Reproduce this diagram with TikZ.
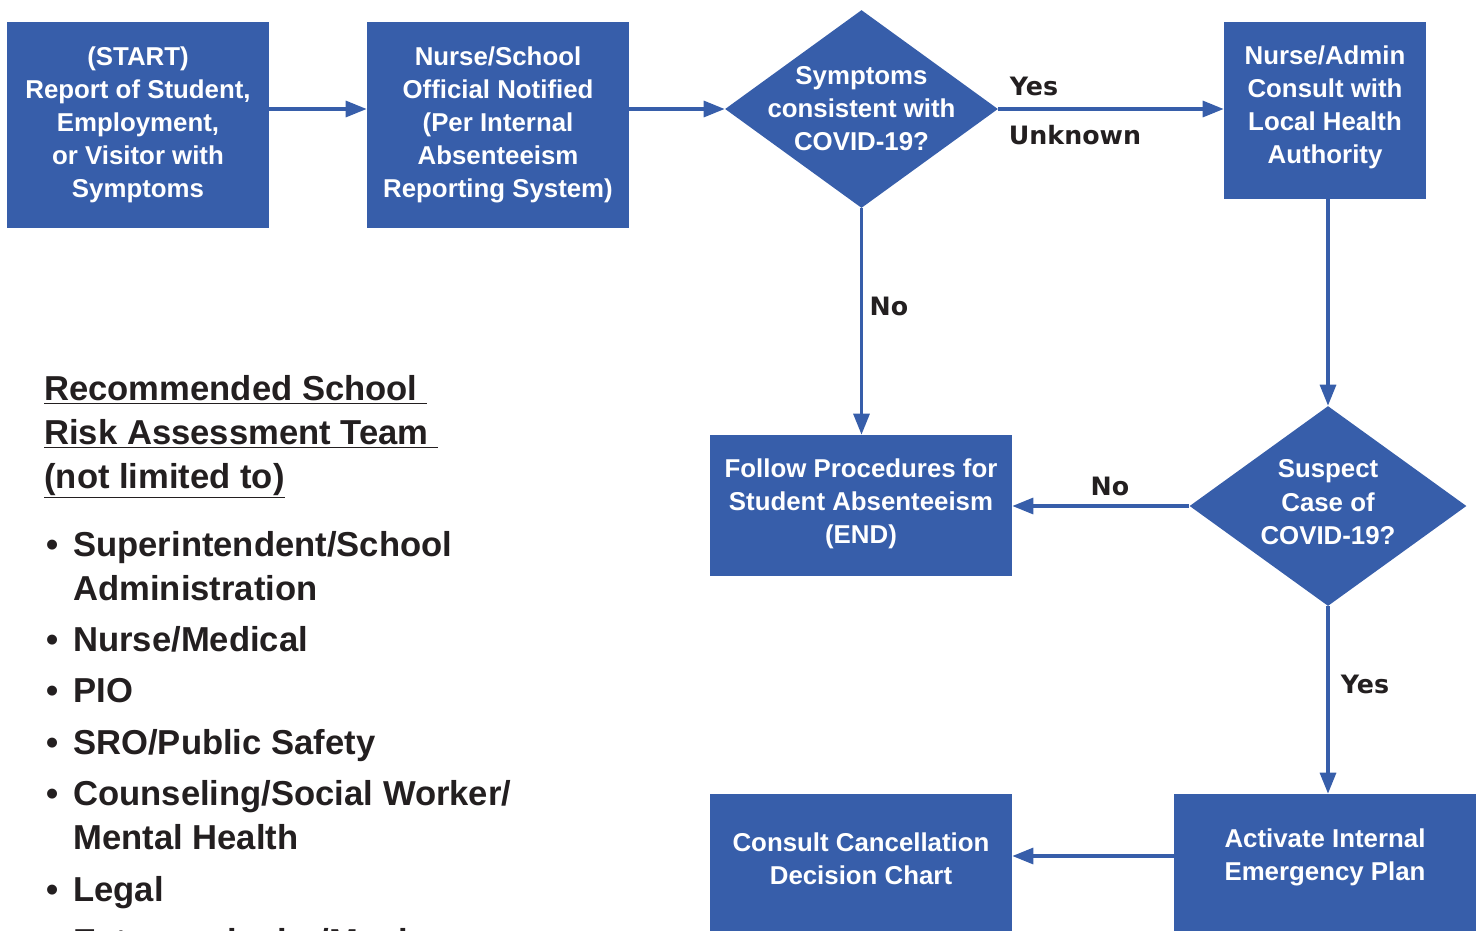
\documentclass[tikz,border=0pt]{standalone}
\usepackage{fontspec}
\setmainfont{Liberation Sans}
\newfontfamily\lblfont{DejaVu Sans}
\usetikzlibrary{shapes,shapes.geometric,positioning,arrows.meta}
\definecolor{boxblue}{RGB}{55,94,170}
\definecolor{inkdark}{RGB}{35,31,32}

\tikzset{
    stepbox/.style={rectangle, fill=boxblue, text=white, inner sep=0pt, align=center,
        font=\fontsize{14.7}{18.8}\selectfont\bfseries},
    decision/.style={diamond, fill=boxblue, text=white, inner sep=-0.3cm, align=center,
        aspect=1.38, font=\fontsize{14.7}{18.8}\selectfont\bfseries},
    flow/.style={draw=boxblue, line width=1.8pt, -{Triangle[length=0.42cm,width=0.32cm]}},
    answer/.style={text=inkdark, font=\lblfont\fontsize{14.4}{17}\selectfont\bfseries},
    teamtext/.style={text=inkdark, anchor=base west, align=left, inner sep=0pt,
        font=\fontsize{19.7}{25}\selectfont\bfseries}
}

\begin{document}
\begin{tikzpicture}[x=0.02cm,y=-0.02cm]
    \useasboundingbox (0,0) rectangle (1483,930);
    \clip (0,0) rectangle (1483,930);

    % flow chart
    \node[stepbox, minimum width=5.24cm, minimum height=4.12cm] (start) at (138,125)
        {(START)\\Report of Student,\\Employment,\\or Visitor with\\Symptoms};
    \node[stepbox, minimum width=5.24cm, minimum height=4.12cm] (notify) at (498,125)
        {Nurse/School\\Official Notified\\(Per Internal\\Absenteeism\\Reporting System)};
    \node[decision, minimum width=5.46cm, minimum height=3.96cm] (symptoms) at (861.5,109)
        {Symptoms\\consistent with\\COVID-19?};
    \node[stepbox, minimum width=4.04cm, minimum height=3.54cm] (authority) at (1325,110.5)
        {Nurse/Admin\\Consult with\\Local Health\\Authority\rule[-0.24cm]{0pt}{0.24cm}};
    \node[decision, minimum width=5.54cm, minimum height=4cm] (suspect) at (1328,506)
        {Suspect\\Case of\\COVID-19?\rule[-0.16cm]{0pt}{0.16cm}};
    \node[stepbox, minimum width=6.04cm, minimum height=2.82cm] (follow) at (861,505.5)
        {Follow Procedures for\\Student Absenteeism\\(END)\rule[-0.16cm]{0pt}{0.16cm}};
    \node[stepbox, minimum width=6.04cm, minimum height=2.92cm] (cancel) at (861,867)
        {Consult Cancellation\\Decision Chart\rule[-0.32cm]{0pt}{0.32cm}};
    \node[stepbox, minimum width=6.04cm, minimum height=2.92cm] (activate) at (1325,867)
        {Activate Internal\\Emergency Plan\rule[-0.48cm]{0pt}{0.48cm}};

    \draw[flow] (start.east |- symptoms) -- (notify.west |- symptoms);
    \draw[flow] (notify.east |- symptoms) -- (symptoms.west);
    \draw[flow] (symptoms.east) -- (authority.west |- symptoms);
    \draw[flow] (symptoms.south) -- (follow.north -| symptoms.south);
    \draw[flow] (suspect.north |- authority.south) -- (suspect.north);
    \draw[flow] (suspect.west) -- (follow.east |- suspect.west);
    \draw[flow] (suspect.south) -- (activate.north -| suspect.south);
    \draw[flow] ([yshift=0.22cm]activate.west) -- ([yshift=0.22cm]cancel.east);

    \node[answer] (yes1) at (1034,86) {Yes};
    \node[answer] (unknown) at (1075,135) {Unknown};
    \node[answer] (no1) at (889,306) {No};
    \node[answer] (no2) at (1110,486) {No};
    \node[answer] (yes2) at (1365,684) {Yes};

    % risk assessment team (base = last line)
    \node[teamtext] (team) at (44,488)
        {\underline{Recommended School\ }\\\underline{Risk Assessment Team\ }\\\underline{(not limited to)}};
    \node[teamtext] (super) at (73,600) {\llap{\textbullet\hspace{8.5pt}}Superintendent/School\\Administration};
    \node[teamtext] (nurse) at (73,651) {\llap{\textbullet\hspace{8.5pt}}Nurse/Medical};
    \node[teamtext] (pio) at (73,702) {\llap{\textbullet\hspace{8.5pt}}PIO};
    \node[teamtext] (sro) at (73,754) {\llap{\textbullet\hspace{8.5pt}}SRO/Public Safety};
    \node[teamtext] (counsel) at (73,849) {\llap{\textbullet\hspace{8.5pt}}Counseling/Social Worker/\\Mental Health};
    \node[teamtext] (legal) at (73,901) {\llap{\textbullet\hspace{8.5pt}}Legal};
    \node[teamtext] (extra) at (73,953) {\llap{\textbullet\hspace{8.5pt}}Extracurricular/Music};
\end{tikzpicture}
\end{document}
